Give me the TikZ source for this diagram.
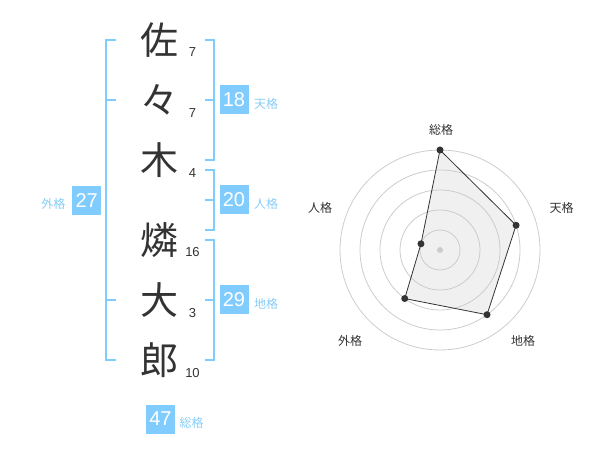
\documentclass[tikz,border=0pt]{standalone}
\usepackage{fontspec}
\setmainfont{Liberation Sans}
\newfontfamily\jp{Noto Sans CJK JP}
\usetikzlibrary{positioning}
\usetikzlibrary{calc}
\definecolor{kakublue}{RGB}{128,204,255}
\definecolor{kakutext}{RGB}{135,205,248}
\definecolor{inkgray}{RGB}{51,51,51}
\tikzstyle{kanji}=[inner sep=0pt,text=inkgray,font=\jp\fontsize{38}{38}\selectfont,text height=33.4pt,text depth=4.6pt]
\tikzstyle{strokes}=[inner sep=0pt,text=inkgray,font=\fontsize{13}{13}\selectfont]
\tikzstyle{kakubox}=[fill=kakublue,text=white,minimum size=29pt,inner sep=0pt,font=\fontsize{20}{20}\selectfont]
\tikzstyle{kakulabel}=[inner sep=0pt,text=kakutext,font=\jp\fontsize{12}{12}\selectfont]
\tikzstyle{bracket}=[draw=kakublue,line width=2pt]
\tikzstyle{ring}=[draw=black!20,line width=0.8pt]
\tikzstyle{radarfill}=[fill=black!6]
\tikzstyle{radaredge}=[draw=inkgray,line width=0.8pt]
\tikzstyle{dot}=[circle,fill=inkgray,minimum size=7pt,inner sep=0pt]
\tikzstyle{axislabel}=[inner sep=0pt,text=inkgray,font=\jp\fontsize{12}{12}\selectfont]

\begin{document}
\begin{tikzpicture}[x=1pt,y=-1pt]
    \useasboundingbox (0,0) rectangle (600,470);

    \foreach \pos/\name/\label in {{(159,40)/sa/佐}, {(159,100)/noma/々}, {(159,160)/ki/木}, {(159,240)/rin/燐}, {(159,300)/dai/大}, {(159,360)/ro/郎}}
        \node[kanji] (\name) at \pos {\label};

    \foreach \pos/\name/\label in {{(192.5,52.5)/nsa/7}, {(192.5,112.7)/nnoma/7}, {(192.5,173.3)/nki/4}, {(192.5,252.3)/nrin/16}, {(192.5,312.7)/ndai/3}, {(192.5,372.7)/nro/10}}
        \node[strokes] (\name) at \pos {\label};

    % brackets
    \draw[bracket] (116,40) -- (106,40) -- (106,360) -- (116,360) (106,100) -- (116,100) (106,300) -- (116,300);
    \foreach \top/\mid/\bot in {40/100/160, 170/200/230, 240/300/360}
        \draw[bracket] (205,\top) -- (214,\top) -- (214,\bot) -- (205,\bot) (214,\mid) -- (205,\mid);

    \foreach \pos/\name/\label in {{(234,100)/ten/18}, {(234,200)/jin/20}, {(234,300)/chi/29}, {(86.7,200.3)/gai/27}, {(160.5,419)/sou/47}}
        \node[kakubox] (\name) at \pos {\label};

    \foreach \pos/\name/\label in {{(266,104)/tenlabel/天格}, {(266,204)/jinlabel/人格}, {(266,304)/chilabel/地格}, {(53.3,204)/gailabel/外格}, {(191.7,423)/soulabel/総格}}
        \node[kakulabel] (\name) at \pos {\label};

    \begin{scope}[shift={(440,250)},y=1pt]
        \foreach \ang/\name/\r in {90/rsou/100, 18/rten/80, -54/rchi/80, -126/rgai/60, 162/rjin/20}
            \coordinate (\name) at (\ang:\r);
        \path[radarfill] (rsou) -- (rten) -- (rchi) -- (rgai) -- (rjin) -- cycle;
        \foreach \r in {20,40,...,100}
            \draw[ring] (0,0) circle[radius=\r];
        \node[dot,fill=black!20,minimum size=6pt] (origin) at (0,0) {};
        \path[radaredge] (rsou) -- (rten) -- (rchi) -- (rgai) -- (rjin) -- cycle;
        \foreach \name in {rsou,rten,rchi,rgai,rjin}
            \node[dot] at (\name) {};
    \end{scope}

    \foreach \pos/\name/\label in {{(441,130)/asou/総格}, {(561.7,208)/aten/天格}, {(523,341)/achi/地格}, {(350,341)/agai/外格}, {(320,208)/ajin/人格}}
        \node[axislabel] (\name) at \pos {\label};
\end{tikzpicture}
\end{document}
